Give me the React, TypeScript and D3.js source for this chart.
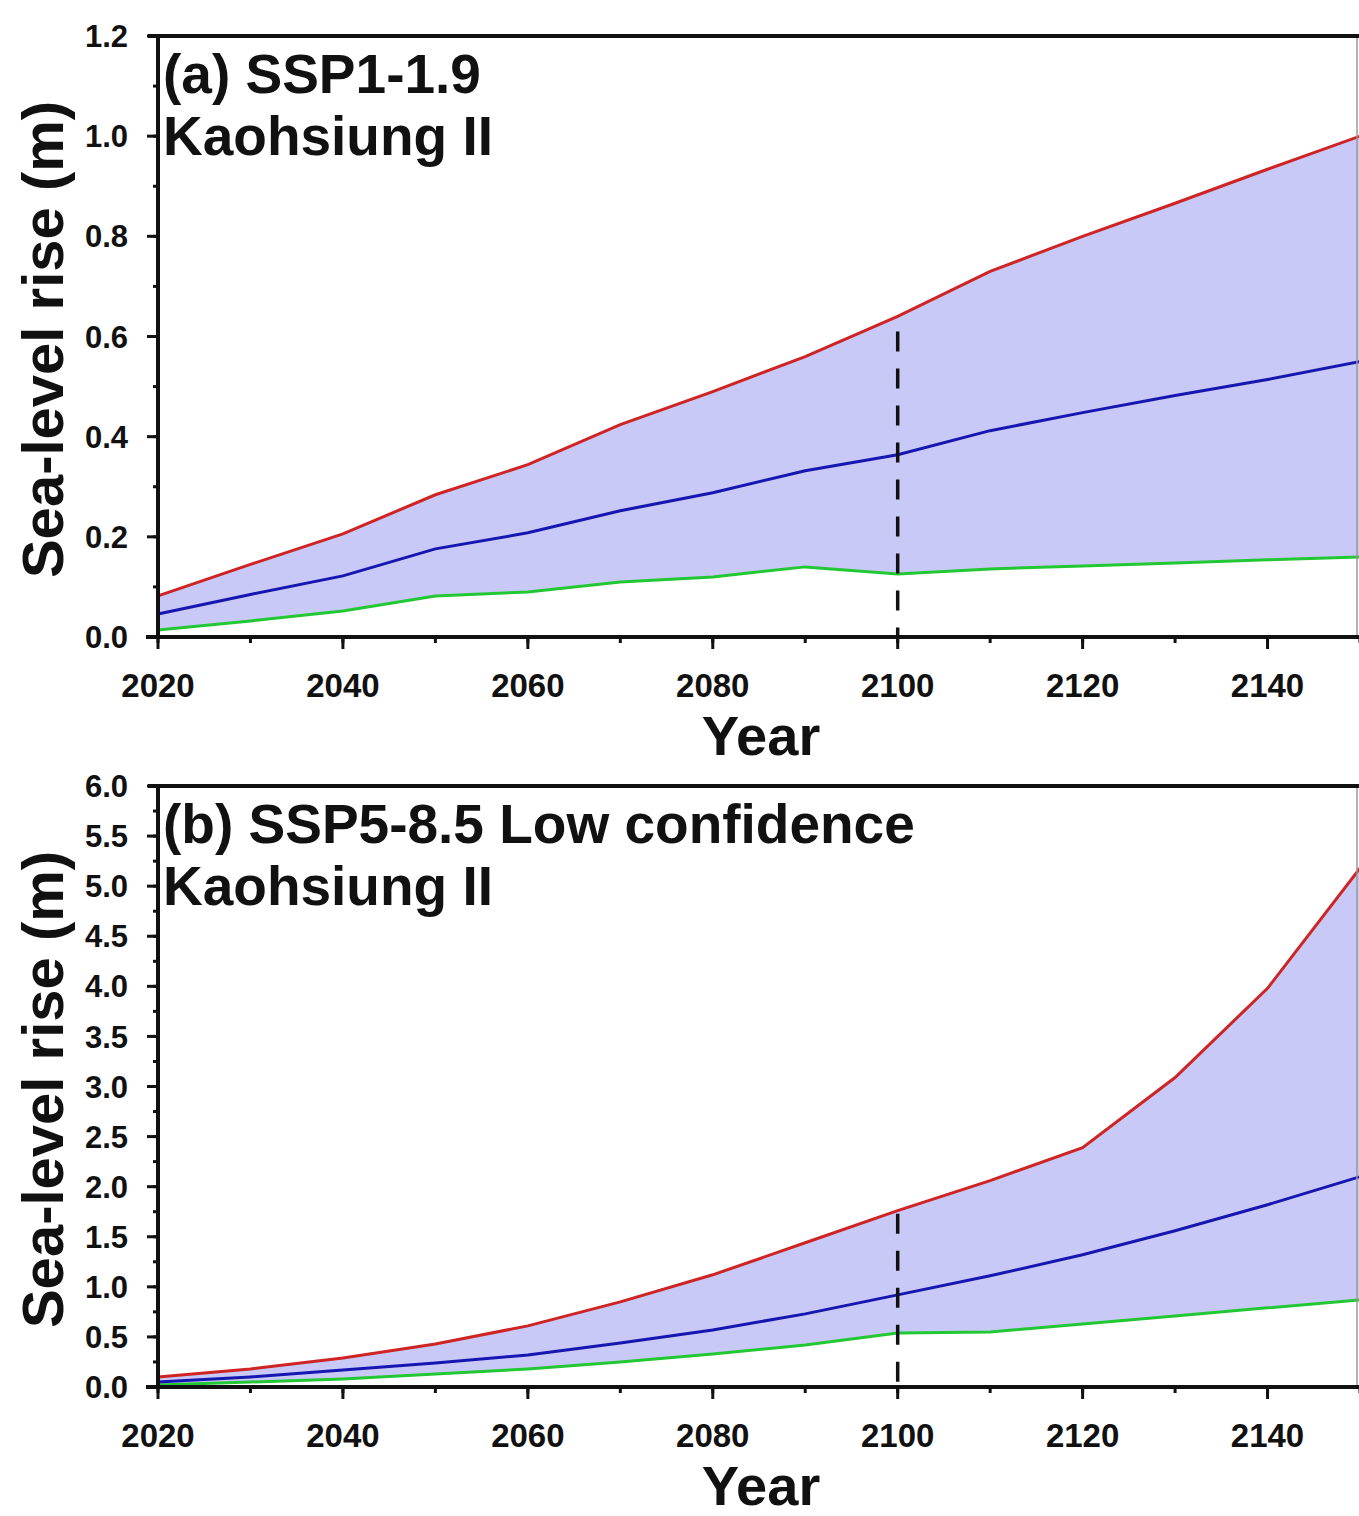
import React from "react";
import { scaleLinear, area, line, range } from "d3";

// decadal years shared by both panels
const years = [2020, 2030, 2040, 2050, 2060, 2070, 2080, 2090, 2100, 2110, 2120, 2130, 2140, 2150];

// (a) SSP1-1.9
const highA = [0.082, 0.145, 0.206, 0.284, 0.344, 0.424, 0.49, 0.56, 0.64, 0.73, 0.8, 0.866, 0.934, 1.0];
const medA = [0.046, 0.085, 0.122, 0.176, 0.208, 0.252, 0.288, 0.332, 0.364, 0.412, 0.448, 0.482, 0.514, 0.55];
const lowA = [0.014, 0.032, 0.052, 0.082, 0.09, 0.11, 0.12, 0.14, 0.126, 0.136, 0.142, 0.148, 0.154, 0.16];

// (b) SSP5-8.5 low confidence
const highB = [0.1, 0.18, 0.29, 0.43, 0.61, 0.85, 1.12, 1.44, 1.76, 2.06, 2.39, 3.09, 3.98, 5.18];
const medB = [0.05, 0.1, 0.17, 0.24, 0.32, 0.44, 0.57, 0.73, 0.92, 1.11, 1.32, 1.56, 1.82, 2.1];
const lowB = [0.02, 0.05, 0.08, 0.13, 0.18, 0.25, 0.33, 0.42, 0.54, 0.55, 0.63, 0.71, 0.79, 0.87];

const xTicks = [2020, 2040, 2060, 2080, 2100, 2120, 2140];
const yTicksA = ["0.0", "0.2", "0.4", "0.6", "0.8", "1.0", "1.2"];
const yTicksB = ["0.0", "0.5", "1.0", "1.5", "2.0", "2.5", "3.0", "3.5", "4.0", "4.5", "5.0", "5.5", "6.0"];

const FONT = "Liberation Sans, Arial, sans-serif";
const LEFT = 158;
const RIGHT = 1360;

type PanelProps = {
  top: number;
  bottom: number;
  yMax: number;
  yTicks: string[];
  minorStep: number;
  high: number[];
  med: number[];
  low: number[];
  dashFrom: number;
  title: string;
};

function Panel({ top, bottom, yMax, yTicks, minorStep, high, med, low, dashFrom, title }: PanelProps) {
  const x = scaleLinear().domain([2020, 2150]).range([LEFT, RIGHT]);
  const y = scaleLinear().domain([0, yMax]).range([bottom, top]);

  const idx = years.map((_, i) => i);
  const band = area<number>()
    .x((i) => x(years[i]))
    .y0((i) => y(low[i]))
    .y1((i) => y(high[i]));
  const mk = (vals: number[]) =>
    line<number>()
      .x((i) => x(years[i]))
      .y((i) => y(vals[i]))(idx) || "";

  const minorY = range(0, yMax + 1e-9, minorStep);
  const minorX = range(2020, 2151, 10);

  return (
    <g>
      <path d={band(idx) || ""} fill="#c9c9f7" stroke="none" />
      <path d={mk(low)} fill="none" stroke="#22c833" strokeWidth={3} />
      <path d={mk(med)} fill="none" stroke="#1616b0" strokeWidth={3} />
      <path d={mk(high)} fill="none" stroke="#cf2424" strokeWidth={3} />
      <line
        x1={x(2100)}
        x2={x(2100)}
        y1={y(dashFrom)}
        y2={bottom}
        stroke="#111"
        strokeWidth={3.5}
        strokeDasharray="20,17"
      />

      {/* frame */}
      <line x1={1357} x2={1357} y1={top} y2={bottom} stroke="#999" strokeWidth={1.5} />
      <line x1={LEFT - 10} x2={1359} y1={top} y2={top} stroke="#111" strokeWidth={4} />
      <line x1={LEFT} x2={LEFT} y1={top} y2={bottom + 2} stroke="#111" strokeWidth={4} />
      <line x1={LEFT - 12} x2={1359} y1={bottom} y2={bottom} stroke="#111" strokeWidth={4} />

      {/* y ticks */}
      {minorY.map((v) => (
        <line key={"my" + v} x1={LEFT - 5} x2={LEFT} y1={y(v)} y2={y(v)} stroke="#111" strokeWidth={3} />
      ))}
      {yTicks.map((t) => (
        <g key={"y" + t}>
          <line x1={LEFT - 11} x2={LEFT} y1={y(+t)} y2={y(+t)} stroke="#111" strokeWidth={3} />
          <text
            x={128}
            y={y(+t)}
            dy="0.36em"
            textAnchor="end"
            fontFamily={FONT}
            fontWeight="bold"
            fontSize={31}
            fill="#111"
          >
            {t}
          </text>
        </g>
      ))}

      {/* x ticks */}
      {minorX.map((v) => (
        <line key={"mx" + v} x1={x(v)} x2={x(v)} y1={bottom} y2={bottom + 6} stroke="#111" strokeWidth={3} />
      ))}
      {xTicks.map((t) => (
        <g key={"x" + t}>
          <line x1={x(t)} x2={x(t)} y1={bottom} y2={bottom + 12} stroke="#111" strokeWidth={3} />
          <text
            x={x(t)}
            y={bottom + 60}
            textAnchor="middle"
            fontFamily={FONT}
            fontWeight="bold"
            fontSize={33}
            fill="#111"
          >
            {t}
          </text>
        </g>
      ))}

      <text x={761} y={bottom + 118} textAnchor="middle" fontFamily={FONT} fontWeight="bold" fontSize={56} fill="#111">
        Year
      </text>
      <text
        transform={`translate(63,${(top + bottom) / 2 + 3}) rotate(-90)`}
        textAnchor="middle"
        fontFamily={FONT}
        fontWeight="bold"
        fontSize={58}
        fill="#111"
      >
        Sea-level rise (m)
      </text>

      <text x={163} y={top + 57} fontFamily={FONT} fontWeight="bold" fontSize={55} fill="#111">
        {title}
      </text>
      <text x={163} y={top + 119} fontFamily={FONT} fontWeight="bold" fontSize={55} fill="#111">
        Kaohsiung II
      </text>
    </g>
  );
}

export default function App() {
  return (
    <svg
      width={1359}
      height={1516}
      style={{ position: "absolute", left: 0, top: 0, background: "#fff" }}
    >
      <rect width={1359} height={1516} fill="#fff" />
      <Panel
        top={36}
        bottom={637}
        yMax={1.2}
        yTicks={yTicksA}
        minorStep={0.1}
        high={highA}
        med={medA}
        low={lowA}
        dashFrom={0.61}
        title="(a) SSP1-1.9"
      />
      <Panel
        top={786}
        bottom={1387}
        yMax={6}
        yTicks={yTicksB}
        minorStep={0.25}
        high={highB}
        med={medB}
        low={lowB}
        dashFrom={1.73}
        title="(b) SSP5-8.5 Low confidence"
      />
    </svg>
  );
}
